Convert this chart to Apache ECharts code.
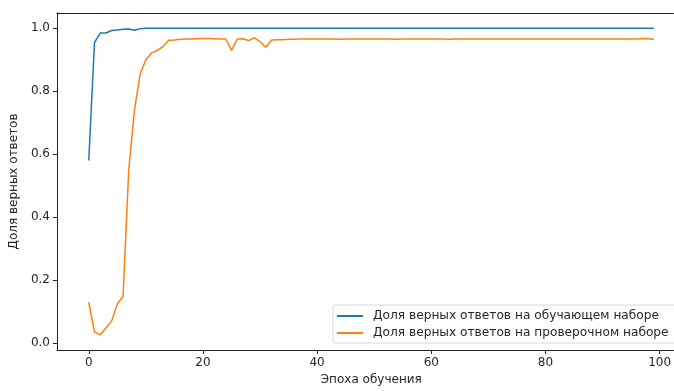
<!DOCTYPE html>
<html>
<head>
<meta charset="utf-8">
<script src="https://cdn.jsdelivr.net/npm/echarts@6/dist/echarts.min.js"></script>
<style>
html,body{margin:0;padding:0;background:#fff;}
#chart{width:674px;height:391px;}
</style>
</head>
<body>
<div id="chart"></div>
<script>
// Data (epochs 0..99)
const epochs = Array.from({length: 100}, (_, i) => i);
const trainAcc = [
  0.58, 0.955, 0.985, 0.985, 0.993, 0.995, 0.997, 0.998, 0.994, 0.999,
  1.0, 1.0, 1.0, 1.0, 1.0, 1.0, 1.0, 1.0, 1.0, 1.0,
  1.0, 1.0, 1.0, 1.0, 1.0, 1.0, 1.0, 1.0, 1.0, 1.0,
  1.0, 1.0, 1.0, 1.0, 1.0, 1.0, 1.0, 1.0, 1.0, 1.0,
  1.0, 1.0, 1.0, 1.0, 1.0, 1.0, 1.0, 1.0, 1.0, 1.0,
  1.0, 1.0, 1.0, 1.0, 1.0, 1.0, 1.0, 1.0, 1.0, 1.0,
  1.0, 1.0, 1.0, 1.0, 1.0, 1.0, 1.0, 1.0, 1.0, 1.0,
  1.0, 1.0, 1.0, 1.0, 1.0, 1.0, 1.0, 1.0, 1.0, 1.0,
  1.0, 1.0, 1.0, 1.0, 1.0, 1.0, 1.0, 1.0, 1.0, 1.0,
  1.0, 1.0, 1.0, 1.0, 1.0, 1.0, 1.0, 1.0, 1.0, 1.0
];
const valAcc = [
  0.13, 0.035, 0.027, 0.048, 0.07, 0.125, 0.148, 0.55, 0.74, 0.855,
  0.90, 0.922, 0.93, 0.942, 0.962, 0.963, 0.965, 0.966, 0.966, 0.967,
  0.968, 0.968, 0.967, 0.966, 0.966, 0.93, 0.966, 0.967, 0.961, 0.970,
  0.958, 0.940, 0.963, 0.964, 0.964, 0.965, 0.965, 0.966, 0.966, 0.966,
  0.966, 0.966, 0.966, 0.966, 0.965, 0.966, 0.966, 0.966, 0.966, 0.966,
  0.966, 0.966, 0.966, 0.966, 0.965, 0.966, 0.966, 0.966, 0.966, 0.966,
  0.966, 0.966, 0.966, 0.965, 0.966, 0.966, 0.966, 0.966, 0.966, 0.966,
  0.966, 0.966, 0.966, 0.966, 0.966, 0.966, 0.966, 0.966, 0.966, 0.966,
  0.966, 0.966, 0.966, 0.966, 0.966, 0.966, 0.966, 0.966, 0.966, 0.966,
  0.966, 0.966, 0.966, 0.966, 0.966, 0.966, 0.966, 0.968, 0.967, 0.965
];
const xTicks = [0, 20, 40, 60, 80, 100];
const yTicks = [0.0, 0.2, 0.4, 0.6, 0.8, 1.0];
const seriesNames = ['Доля верных ответов на обучающем наборе', 'Доля верных ответов на проверочном наборе'];
const xTitle = 'Эпоха обучения';
const yTitle = 'Доля верных ответов';

const font = 'DejaVu Sans';
const txt = '#262626';
const xMin = -5.57, xMax = 102.43;
const chart = echarts.init(document.getElementById('chart'), null, {renderer: 'canvas'});
chart.setOption({
  animation: false,
  textStyle: {fontFamily: font},
  grid: {left: 53, right: 0, top: 13, bottom: 38, containLabel: false},
  xAxis: [{
    type: 'value', min: xMin, max: xMax,
    name: xTitle, nameLocation: 'middle', nameGap: 24,
    nameTextStyle: {fontFamily: font, fontSize: 12, color: txt, padding: [0, 0, 0, 12]},
    axisLine: {show: true, onZero: false, lineStyle: {color: '#222', width: 1}},
    axisTick: {show: true, inside: false, length: 4, lineStyle: {color: '#222'}, customValues: xTicks},
    axisLabel: {show: true, margin: 7, fontFamily: font, fontSize: 12, color: txt, customValues: xTicks, formatter: v => String(v)},
    splitLine: {show: false}
  }, {
    type: 'value', position: 'top', min: xMin, max: xMax,
    axisLine: {show: true, onZero: false, lineStyle: {color: '#222', width: 1}},
    axisTick: {show: false}, axisLabel: {show: false}, splitLine: {show: false}
  }],
  yAxis: {
    type: 'value', min: -0.0217, max: 1.0487,
    name: yTitle, nameLocation: 'middle', nameGap: 31, nameRotate: 90,
    nameTextStyle: {fontFamily: font, fontSize: 12, color: txt},
    axisLine: {show: true, onZero: false, lineStyle: {color: '#222', width: 1}},
    axisTick: {show: true, inside: false, length: 4, lineStyle: {color: '#222'}, customValues: yTicks},
    axisLabel: {show: true, margin: 7, fontFamily: font, fontSize: 12, color: txt, customValues: yTicks, formatter: v => v.toFixed(1)},
    splitLine: {show: false}
  },
  legend: {
    orient: 'vertical', left: 333, top: 305,
    padding: [5, 40, 4, 3],
    itemWidth: 26, itemHeight: 14, itemGap: 5,
    borderColor: '#d6d6d6', borderWidth: 1, borderRadius: 3,
    backgroundColor: 'rgba(255,255,255,0.85)',
    itemStyle: {opacity: 0},
    textStyle: {fontFamily: font, fontSize: 12.2, color: txt, padding: [0, 0, 0, 5]},
    data: seriesNames
  },
  series: [
    {name: seriesNames[0], type: 'line', data: epochs.map((e, i) => [e, trainAcc[i]]), symbol: 'none', showSymbol: false,
     lineStyle: {color: '#1f77b4', width: 1.5}, itemStyle: {color: '#1f77b4'}},
    {name: seriesNames[1], type: 'line', data: epochs.map((e, i) => [e, valAcc[i]]), symbol: 'none', showSymbol: false,
     lineStyle: {color: '#ff7f0e', width: 1.5}, itemStyle: {color: '#ff7f0e'}}
  ]
});
</script>
</body>
</html>
